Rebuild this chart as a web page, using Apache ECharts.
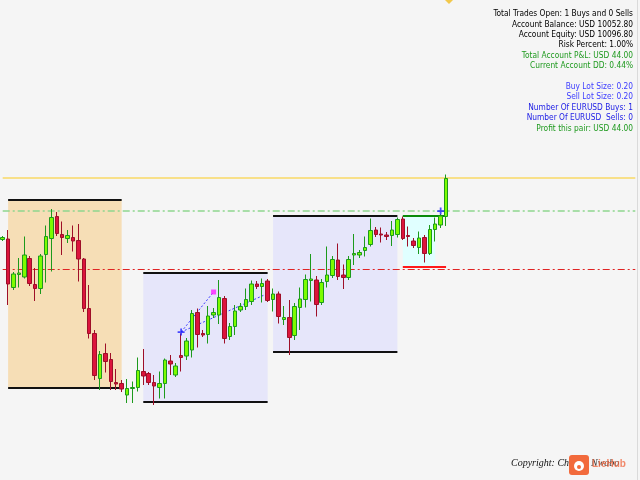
<!DOCTYPE html>
<html>
<head>
<meta charset="utf-8">
<script src="https://cdn.jsdelivr.net/npm/echarts@6/dist/echarts.min.js"></script>
<style>
html,body{margin:0;padding:0;background:#f5f5f5;}
#chart{width:640px;height:480px;}
</style>
</head>
<body>
<div id="chart"></div>
<script>
// EURUSD bars (open / close / low / high)
const opens = [1.08481,1.08482,1.08385,1.08411,1.08406,1.08443,1.08391,1.08383,1.08451,1.08483,
1.08527,1.08491,1.08483,1.08485,1.08479,1.08442,1.08343,1.08293,1.08203,1.08253,
1.08241,1.08195,1.08193,1.08170,1.08183,1.08185,1.08217,1.08213,1.08195,1.08185,
1.08193,1.08238,1.08210,1.08249,1.08248,1.08260,1.08335,1.08293,1.08291,1.08330,
1.08330,1.08363,1.08287,1.08307,1.08340,1.08347,1.08357,1.08392,1.08387,1.08398,
1.08361,1.08372,1.08321,1.08325,1.08289,1.08345,1.08361,1.08399,1.08400,1.08355,
1.08397,1.08409,1.08440,1.08410,1.08405,1.08450,1.08450,1.08459,1.08471,1.08500,
1.08492,1.08490,1.08489,1.08491,1.08522,1.08489,1.08478,1.08465,1.08485,1.08453,
1.08501,1.08510,1.08527];
const closes = [1.08485,1.08392,1.08412,1.08414,1.08450,1.08393,1.08383,1.08448,1.08487,1.08525,
1.08493,1.08485,1.08489,1.08478,1.08442,1.08343,1.08293,1.08209,1.08251,1.08237,
1.08197,1.08192,1.08182,1.08183,1.08185,1.08219,1.08208,1.08195,1.08188,1.08193,
1.08240,1.08232,1.08228,1.08245,1.08278,1.08333,1.08291,1.08290,1.08328,1.08335,
1.08365,1.08283,1.08307,1.08338,1.08347,1.08361,1.08392,1.08387,1.08393,1.08359,
1.08372,1.08327,1.08325,1.08285,1.08347,1.08362,1.08401,1.08402,1.08351,1.08395,
1.08410,1.08441,1.08407,1.08405,1.08441,1.08453,1.08455,1.08465,1.08499,1.08491,
1.08490,1.08487,1.08500,1.08521,1.08483,1.08487,1.08469,1.08484,1.08453,1.08501,
1.08512,1.08528,1.08603];
const lows = [1.08478,1.08350,1.08380,1.08385,1.08403,1.08388,1.08358,1.08372,1.08395,1.08417,
1.08488,1.08450,1.08474,1.08457,1.08397,1.08336,1.08283,1.08200,1.08180,1.08215,
1.08180,1.08180,1.08176,1.08154,1.08154,1.08177,1.08190,1.08190,1.08150,1.08163,
1.08163,1.08210,1.08206,1.08217,1.08240,1.08245,1.08265,1.08286,1.08273,1.08324,
1.08312,1.08273,1.08280,1.08290,1.08336,1.08340,1.08350,1.08382,1.08355,1.08356,
1.08337,1.08313,1.08310,1.08250,1.08280,1.08300,1.08345,1.08357,1.08327,1.08350,
1.08385,1.08404,1.08400,1.08382,1.08400,1.08430,1.08444,1.08447,1.08467,1.08486,
1.08475,1.08480,1.08468,1.08485,1.08480,1.08467,1.08464,1.08452,1.08435,1.08450,
1.08477,1.08504,1.08508];
const highs = [1.08488,1.08500,1.08416,1.08444,1.08487,1.08448,1.08424,1.08452,1.08509,1.08542,
1.08536,1.08517,1.08500,1.08509,1.08512,1.08444,1.08390,1.08300,1.08258,1.08273,
1.08254,1.08222,1.08200,1.08202,1.08197,1.08245,1.08262,1.08216,1.08210,1.08217,
1.08243,1.08250,1.08234,1.08293,1.08284,1.08340,1.08343,1.08300,1.08348,1.08344,
1.08400,1.08368,1.08314,1.08350,1.08354,1.08383,1.08399,1.08398,1.08403,1.08402,
1.08383,1.08377,1.08348,1.08360,1.08354,1.08385,1.08411,1.08452,1.08408,1.08402,
1.08467,1.08448,1.08473,1.08431,1.08448,1.08492,1.08460,1.08487,1.08523,1.08506,
1.08505,1.08496,1.08518,1.08525,1.08527,1.08507,1.08484,1.08497,1.08490,1.08510,
1.08525,1.08532,1.08611];

// bar slots on the chart (83 drawn bars + empty space to the right)
const slotCount = 118;
const categories = [];
for (let i = 0; i < slotCount; i++) categories.push(String(i));

// price levels: [price, colour, width, dash]
const levels = [
  [1.08538, '#8fd68f', 1.5, [7, 3, 2, 3]],
  [1.08421, '#e02424', 1, [7, 3, 2, 3]],
  [1.08604, '#f8d865', 1.5, 'solid']
];

// zones: [fromBar, toBar, top, bottom, fill]
const zones = [
  [1, 22, 1.08561, 1.08185, '#f6deb6'],
  [26, 49, 1.08415, 1.08156, '#e6e6fa'],
  [50, 73, 1.08528, 1.08257, '#e6e6fa'],
  [74, 80, 1.08528, 1.08428, '#e0ffff']
];
// zone edges: [fromBar, toBar, price, colour]
const zoneEdges = [
  [1, 22, 1.08561, '#111'], [1, 22, 1.08185, '#111'],
  [26, 49, 1.08415, '#111'], [26, 49, 1.08156, '#111'],
  [50, 73, 1.08528, '#111'], [50, 73, 1.08257, '#111'],
  [74, 82, 1.08528, '#0a8a0a'], [74, 82, 1.08427, '#ff1a1a']
];
// trade markers
const buyMarks = [[33, 1.08296], [81, 1.08538]];
const closeMarks = [[39, 1.08376]];
const tradeLines = [
  [[33, 1.08296], [39, 1.08376]],
  [[33, 1.08296], [49, 1.08373]]
];

const infoLines = [
  ['Total Trades Open: 1 Buys and 0 Sells', '#000000'],
  ['Account Balance: USD 10052.80', '#000000'],
  ['Account Equity: USD 10096.80', '#000000'],
  ['Risk Percent: 1.00%', '#000000'],
  ['Total Account P&L: USD 44.00', '#1f9a1f'],
  ['Current Account DD: 0.44%', '#1f9a1f'],
  ['', '#000'],
  ['Buy Lot Size: 0.20', '#3b3bff'],
  ['Sell Lot Size: 0.20', '#3b3bff'],
  ['Number Of EURUSD Buys: 1', '#2222e6'],
  ['Number Of EURUSD  Sells: 0', '#2222e6'],
  ['Profit this pair: USD 44.00', '#1f9a1f']
];

const candleData = opens.map((o, i) => [o, closes[i], lows[i], highs[i]]);

const chart = echarts.init(document.getElementById('chart'), null, {renderer: 'canvas'});

const graphics = [];
infoLines.forEach((l, i) => {
  if (!l[0]) return;
  graphics.push({
    type: 'text', right: 7, top: 10 + i * 10.4,
    style: {text: l[0], fill: l[1], font: '8.3px "DejaVu Sans Condensed", "Liberation Sans", sans-serif', textAlign: 'right'}
  });
});
graphics.push(
  {type: 'line', shape: {x1: 637.5, y1: 0, x2: 637.5, y2: 480}, style: {stroke: '#dadada', lineWidth: 1}},
  {type: 'polygon', shape: {points: [[445, 0], [453, 0], [449, 4]]}, style: {fill: '#f2c84b'}},
  {type: 'text', left: 511, top: 458, style: {text: 'Copyright: Ch', fill: '#111', font: 'italic 10px "Liberation Serif", serif'}},
  {type: 'text', left: 591, top: 458, style: {text: 'Nwabo', fill: '#333', font: 'italic 10px "Liberation Serif", serif'}},
  {type: 'text', left: 592, top: 459, style: {text: 'LieHub', fill: 'rgba(240,100,60,0.75)', font: 'bold 10px "Liberation Sans", sans-serif'}},
  {type: 'rect', shape: {x: 569, y: 455, width: 20, height: 20, r: 3}, style: {fill: '#f26a3c'}},
  {type: 'circle', shape: {cx: 579, cy: 466, r: 5}, style: {fill: '#fff'}},
  {type: 'circle', shape: {cx: 579, cy: 467, r: 2}, style: {fill: '#f26a3c'}}
);

const option = {
  backgroundColor: '#f5f5f5',
  animation: false,
  grid: {left: 0, right: 2, top: 0, bottom: 0},
  xAxis: {
    type: 'category', data: categories, boundaryGap: true,
    axisLine: {show: false}, axisTick: {show: false}, axisLabel: {show: false}, splitLine: {show: false}
  },
  yAxis: {
    type: 'value', min: 1.08000, max: 1.08960, scale: true,
    axisLine: {show: false}, axisTick: {show: false}, axisLabel: {show: false}, splitLine: {show: false}
  },
  series: [
    {
      type: 'line', z: 1, data: [], silent: true,
      markArea: {
        silent: true,
        data: zones.map(z => [
          {coord: [z[0], z[2]], itemStyle: {color: z[4], opacity: 1}},
          {coord: [z[1], z[3]]}
        ])
      },
      markLine: {
        silent: true, symbol: ['none', 'none'], label: {show: false},
        data: zoneEdges.map(e => [
          {coord: [e[0], e[2]], lineStyle: {color: e[3], width: 2, type: 'solid'}},
          {coord: [e[1], e[2]]}
        ]).concat(tradeLines.map(t => [
          {coord: t[0], lineStyle: {color: '#3a3aff', width: 1, type: [2, 2]}},
          {coord: t[1]}
        ]))
      }
    },
    {
      type: 'line', z: 2, data: [], silent: true,
      markLine: {
        silent: true, symbol: ['none', 'none'], label: {show: false},
        data: levels.map(l => [
          {coord: [0, l[0]], lineStyle: {color: l[1], width: l[2], type: l[3]}},
          {coord: [slotCount - 1, l[0]]}
        ])
      }
    },
    {
      type: 'candlestick', z: 5, data: candleData, barWidth: 4,
      itemStyle: {
        color: '#7cfc00', color0: '#dc143c',
        borderColor: '#1c9a1c', borderColor0: '#9e0f28', borderWidth: 1
      }
    },
    {
      type: 'scatter', z: 6, data: buyMarks,
      symbol: 'path://M3,0H5V3H8V5H5V8H3V5H0V3H3Z', symbolSize: 7,
      itemStyle: {color: '#1f1fff'}
    },
    {
      type: 'scatter', z: 6, data: closeMarks, symbol: 'rect', symbolSize: 5,
      itemStyle: {color: '#ff22ff'}
    }
  ],
  graphic: graphics
};
chart.setOption(option);
</script>
</body>
</html>
